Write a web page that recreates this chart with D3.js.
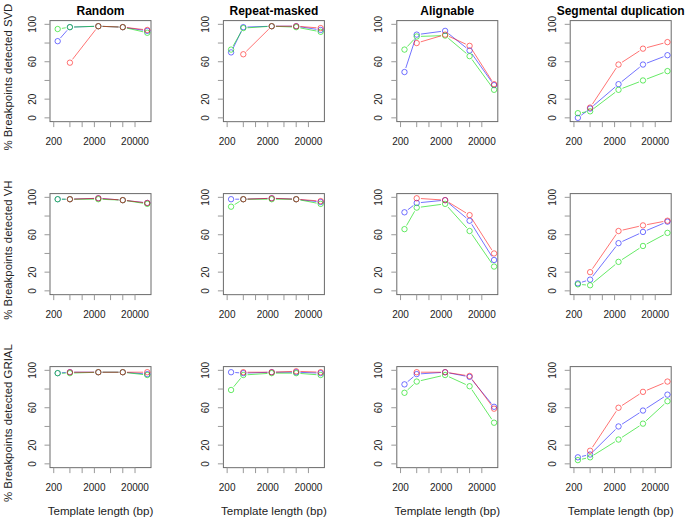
<!DOCTYPE html>
<html>
<head>
<meta charset="utf-8">
<script src="https://cdn.jsdelivr.net/npm/d3@7"></script>
<style>
  html, body { margin: 0; padding: 0; background: #fff; }
  svg { display: block; font-family: "Liberation Sans", Arial, Helvetica, sans-serif; }
</style>
</head>
<body>
<svg id="chart" width="689" height="520"></svg>
<script>
// ---------------- DATA ----------------
const templateLengths = [250, 500, 2500, 10000, 40000];
const categories = ["Random", "Repeat-masked", "Alignable", "Segmental duplication"];
const methods = ["SVD", "VH", "GRIAL"];
const xTickValues = [200, 500, 1000, 2000, 5000, 10000, 20000];
const xTickLabels = [200, 2000, 20000];
const yTickValues = [0, 20, 40, 60, 80, 100];
const yTickLabels = [0, 20, 60, 100];

// each array: one row of values per category (Random, Repeat-masked, Alignable, Segmental duplication)
const svdRed   = [[null, 59, 98, 97, 94], [null, 68, 98, 98, 96], [null, 80, 89, 77, 36], [null, 11, 57, 74, 81]];
const svdBlue  = [[82, 97, 98, 97, 93], [70, 97, 98, 98, 94], [49, 89, 93, 72, 35], [0, 10, 36, 57, 67]];
const svdGreen = [[95, 97, 98, 97, 91], [73, 96, 98, 97, 92], [73, 87, 88, 66, 30], [5, 7, 30, 40, 50]];

const vhRed   = [[null, 98, 99, 97, 94], [null, 98, 99, 98, 96], [null, 99, 97, 81, 40], [null, 20, 64, 70, 75]];
const vhBlue  = [[98, 98, 99, 97, 94], [98, 98, 99, 98, 95], [84, 94, 97, 75, 33], [8, 12, 51, 63, 74]];
const vhGreen = [[98, 98, 98, 97, 93], [90, 98, 98, 98, 93], [66, 89, 93, 64, 26], [7, 6, 31, 48, 62]];

const grialRed   = [[null, 98, 98, 98, 98], [null, 98, 98, 99, 98], [null, 98, 98, 94, 59], [null, 14, 60, 77, 88]];
const grialBlue  = [[97, 98, 98, 98, 96], [98, 97, 98, 98, 97], [85, 96, 98, 93, 61], [7, 10, 40, 57, 74]];
const grialGreen = [[97, 97, 98, 98, 95], [79, 95, 97, 97, 95], [76, 88, 95, 83, 44], [4, 7, 26, 43, 67]];

// drawing order: blue, green, red
const seriesColors = ["rgba(0,0,255,0.55)", "rgba(0,220,0,0.6)", "rgba(255,0,0,0.55)"];
const methodSeries = {
  SVD:   [svdBlue, svdGreen, svdRed],
  VH:    [vhBlue, vhGreen, vhRed],
  GRIAL: [grialBlue, grialGreen, grialRed]
};

// ---------------- LAYOUT ----------------
const svg = d3.select("#chart");
const boxW = 101, boxH = 101;
const colLeft = c => 50 + c * 173.4;
const rowTop = r => 20.6 + r * 173;

// R-style 4% padding on log axis for xlim [200, 40000]
const lx0 = Math.log10(200), lx1 = Math.log10(40000), padX = (lx1 - lx0) * 0.04;
const xDomain = [Math.pow(10, lx0 - padX), Math.pow(10, lx1 + padX)];
const yDomain = [-4, 104];

const tickLen = 5.5;
const r = 2.7, gap = 4.2;

methods.forEach((m, ri) => {
  categories.forEach((cat, ci) => {
    const x0 = colLeft(ci), y0 = rowTop(ri);
    const x = d3.scaleLog().domain(xDomain).range([x0, x0 + boxW]);
    const y = d3.scaleLinear().domain(yDomain).range([y0 + boxH, y0]);
    const g = svg.append("g");

    // box
    g.append("rect").attr("x", x0).attr("y", y0).attr("width", boxW).attr("height", boxH)
      .attr("fill", "none").attr("stroke", "#6a6a6a").attr("stroke-width", 1);

    // x axis ticks
    const bottom = y0 + boxH;
    g.append("line").attr("x1", x(xTickValues[0])).attr("x2", x(xTickValues[xTickValues.length - 1]))
      .attr("y1", bottom).attr("y2", bottom).attr("stroke", "#888");
    xTickValues.forEach(v => {
      g.append("line").attr("x1", x(v)).attr("x2", x(v)).attr("y1", bottom).attr("y2", bottom + tickLen)
        .attr("stroke", "#999").attr("stroke-width", 1);
    });
    xTickLabels.forEach(v => {
      g.append("text").attr("x", x(v)).attr("y", bottom + 20).attr("text-anchor", "middle")
        .attr("dominant-baseline", "central").attr("font-size", 10).attr("fill", "#222").text(v);
    });

    // y axis ticks
    yTickValues.forEach(v => {
      g.append("line").attr("x1", x0).attr("x2", x0 - tickLen).attr("y1", y(v)).attr("y2", y(v))
        .attr("stroke", "#999").attr("stroke-width", 1);
    });
    yTickLabels.forEach(v => {
      g.append("text").attr("transform", `translate(${x0 - 18},${y(v)}) rotate(-90)`)
        .attr("text-anchor", "middle").attr("dominant-baseline", "central")
        .attr("font-size", 10).attr("fill", "#222").text(v);
    });

    // column titles
    if (ri === 0) {
      g.append("text").attr("x", x0 + boxW / 2).attr("y", 11).attr("text-anchor", "middle")
        .attr("dominant-baseline", "central").attr("font-size", 12).attr("font-weight", "bold")
        .attr("fill", "#000").text(cat);
    }
    // row y title
    if (ci === 0) {
      g.append("text").attr("transform", `translate(8,${y0 + boxH / 2 + 6}) rotate(-90)`)
        .attr("text-anchor", "middle").attr("dominant-baseline", "central")
        .attr("font-size", 11.4).attr("fill", "#222").text("% Breakpoints detected " + m);
    }
    // x title
    if (ri === methods.length - 1) {
      g.append("text").attr("x", x0 + boxW / 2).attr("y", 510).attr("text-anchor", "middle")
        .attr("dominant-baseline", "central").attr("font-size", 11.6).attr("fill", "#222")
        .text("Template length (bp)");
    }

    // series (type = "b": points + lines with gaps)
    methodSeries[m].forEach((arr, si) => {
      const vals = arr[ci];
      const col = seriesColors[si];
      const pts = templateLengths.map((t, i) => vals[i] == null ? null : [x(t), y(vals[i])]);
      for (let i = 0; i < pts.length - 1; i++) {
        const a = pts[i], b = pts[i + 1];
        if (!a || !b) continue;
        const dx = b[0] - a[0], dy = b[1] - a[1], L = Math.hypot(dx, dy);
        if (L <= 2 * gap) continue;
        const ux = dx / L, uy = dy / L;
        g.append("line")
          .attr("x1", a[0] + ux * gap).attr("y1", a[1] + uy * gap)
          .attr("x2", b[0] - ux * gap).attr("y2", b[1] - uy * gap)
          .attr("stroke", col).attr("stroke-width", 1);
      }
      pts.forEach(p => {
        if (!p) return;
        g.append("circle").attr("cx", p[0]).attr("cy", p[1]).attr("r", r)
          .attr("fill", "none").attr("stroke", col).attr("stroke-width", 1);
      });
    });
  });
});
</script>
</body>
</html>
